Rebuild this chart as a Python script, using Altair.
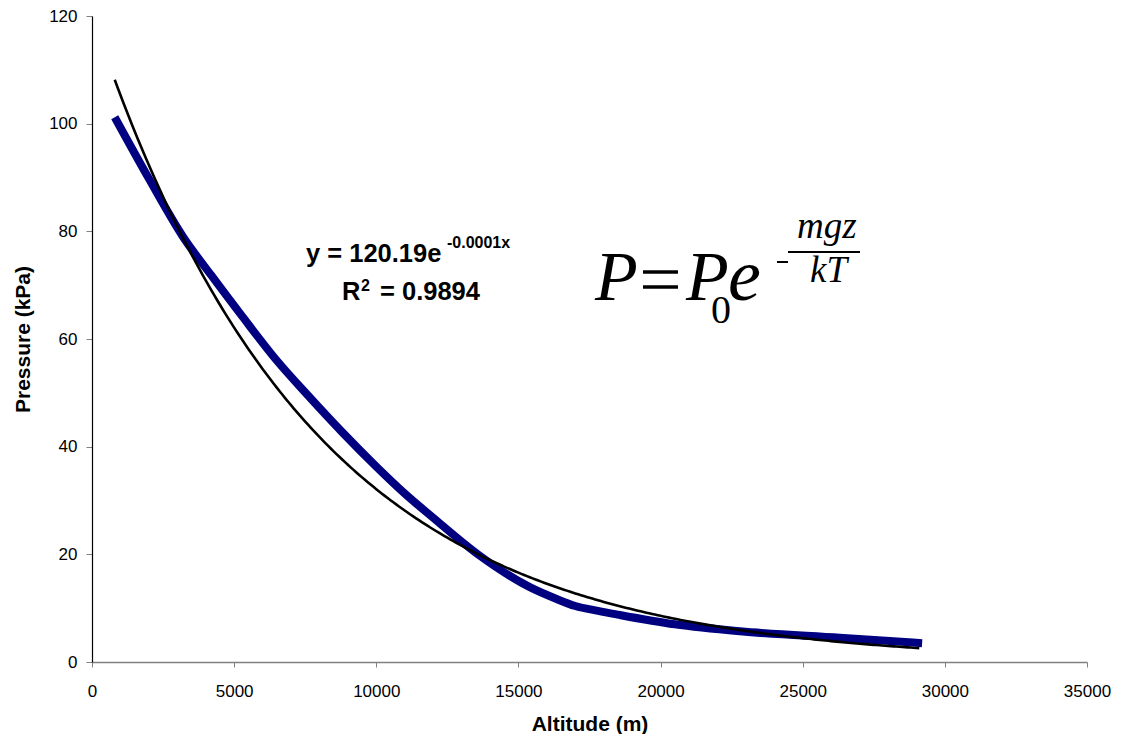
import altair as alt
import pandas as pd

# ---- data ----
altitude_m = [800, 2000, 3200, 4200, 5300, 6500, 7600, 8800, 10000, 11000,
              12000, 13600, 15400, 16300, 17000, 17800, 18500, 20500, 22800,
              26300, 29200]
pressure_kpa = [101.2, 89.8, 79.0, 71.8, 64.1, 56.0, 49.5, 42.7, 36.3, 31.3,
                26.8, 19.9, 13.9, 11.8, 10.4, 9.5, 8.8, 7.0, 5.7,
                4.5, 3.5]

x_ticks = [0, 5000, 10000, 15000, 20000, 25000, 30000, 35000]
y_ticks = [0, 20, 40, 60, 80, 100, 120]

# exponential trendline y = a * exp(b * x) (Excel-style fit shown on chart)
trend_a = 120.19
trend_b = -0.000132
trend_range = [800, 29100]

df = pd.DataFrame({"alt": altitude_m, "p": pressure_kpa})
one = pd.DataFrame({"k": [0]})

xs = alt.Scale(domain=[0, 35000], nice=False, zero=False)
ys = alt.Scale(domain=[0, 120], nice=False)

FONT = "Liberation Sans"
SERIF = "Liberation Serif"

x_axis = alt.Axis(values=x_ticks, format="d", title="Altitude (m)", grid=False,
                  domainColor="#808080", domainWidth=1.5, tickColor="#808080",
                  tickSize=5, labelPadding=16, labelFontSize=17, labelFont=FONT,
                  labelColor="#000000", labelFlush=False,
                  titleFont=FONT, titleFontSize=21, titleFontWeight="bold",
                  titleColor="#000000", titleBaseline="alphabetic", titleY=68)
y_axis = alt.Axis(values=y_ticks, format="d", title="Pressure (kPa)", grid=False,
                  domainColor="#000000", domainWidth=1.2, tickColor="#808080",
                  tickSize=6, labelPadding=9, labelFontSize=17, labelFont=FONT,
                  labelColor="#000000", labelFlush=False,
                  titleFont=FONT, titleFontSize=21, titleFontWeight="bold",
                  titleColor="#000000", titleAngle=-90, titleBaseline="alphabetic",
                  titleAlign="center", titleX=-63, titleY=323)

data_line = alt.Chart(df).mark_line(
    color="#000080", strokeWidth=8, interpolate="monotone", strokeJoin="round"
).encode(
    x=alt.X("alt:Q", scale=xs, axis=x_axis),
    y=alt.Y("p:Q", scale=ys, axis=y_axis),
)

trend = alt.Chart(alt.sequence(trend_range[0], trend_range[1] + 1, 100, as_="alt")).transform_calculate(
    p=f"{trend_a} * exp({trend_b} * datum.alt)"
).mark_line(color="#000000", strokeWidth=2.6).encode(
    x=alt.X("alt:Q", scale=xs),
    y=alt.Y("p:Q", scale=ys),
)


def label(txt, x, y, size, font=FONT, weight="normal", style="normal"):
    return alt.Chart(one).mark_text(
        text=txt, align="left", baseline="alphabetic", font=font,
        fontSize=size, fontWeight=weight, fontStyle=style, color="#000000"
    ).encode(x=alt.value(x), y=alt.value(y))


def rule(x1, x2, y, w=2):
    return alt.Chart(one).mark_rule(color="#000000", strokeWidth=w).encode(
        x=alt.value(x1), x2=alt.value(x2), y=alt.value(y))


annotations = [
    label("y = 120.19e", 214, 246, 25.5, weight="bold"),
    label("-0.0001x", 355, 232, 16, weight="bold"),
    label("R", 250, 284, 25.5, weight="bold"),
    label("2", 269, 275, 16, weight="bold"),
    label("= 0.9894", 288, 284, 25.5, weight="bold"),
    label("P", 503, 284, 70, font=SERIF, style="italic"),
    rule(551, 586, 256, 3.5),
    rule(551, 586, 271, 3.5),
    label("P", 594, 284, 70, font=SERIF, style="italic"),
    label("0", 619, 307, 40, font=SERIF),
    label("e", 636, 284, 74, font=SERIF, style="italic"),
    rule(685, 696, 246),
    rule(696, 768, 236),
    label("mgz", 705, 222, 37, font=SERIF, style="italic"),
    label("kT", 718, 266, 37, font=SERIF, style="italic"),
]

chart = alt.layer(data_line, trend, *annotations).properties(
    width=995, height=646,
    autosize=alt.AutoSizeParams(type="none"),
    padding={"left": 84, "top": 8, "right": 28, "bottom": 72},
    background="white",
).configure_view(stroke=None)

chart.save("out.html", embed_options={"renderer": "svg", "actions": False})
